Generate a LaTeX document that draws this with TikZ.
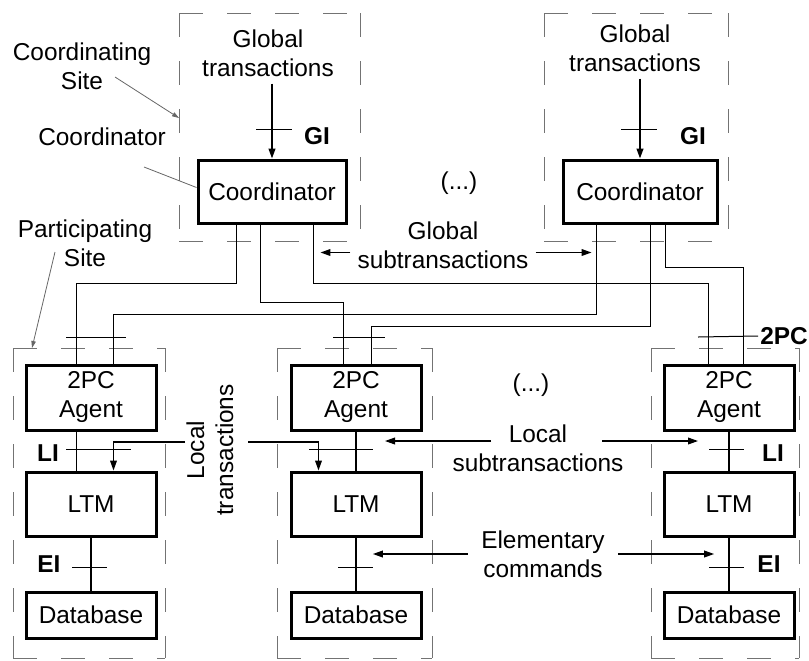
\documentclass[tikz,border=0pt]{standalone}
\usepackage{fontspec}
\setmainfont{Liberation Sans}
\usetikzlibrary{arrows.meta,calc}

\begin{document}
\begin{tikzpicture}[x=0.5pt,y=-0.5pt,font=\fontsize{12.2}{14.5}\selectfont,
    >={Triangle[length=5pt,width=3.4pt]}]
    \tikzstyle{box}=[draw,line width=1.5pt,inner sep=0pt,minimum width=65pt,align=center]
    \tikzstyle{area}=[inner sep=0pt,outer sep=0pt]
    \tikzstyle{site}=[draw=black!55,line width=0.5pt,dash pattern=on 11.75pt off 12.25pt]
    \tikzstyle{wire}=[line width=0.9pt]
    \tikzstyle{link}=[line width=0.6pt]
    \tikzstyle{tick}=[line width=0.5pt]
    \tikzstyle{note}=[draw=black!60,line width=0.4pt,>={Triangle[length=3.5pt,width=2.2pt]}]
    \tikzstyle{lbl}=[font=\fontsize{12.2}{14.5}\selectfont\bfseries]
    \useasboundingbox (0,0) rectangle (809,660);

    \node[area,minimum width=90.5pt,minimum height=114pt] (siteA) at (269.5,127) {};
    \node[area,minimum width=92pt,minimum height=114pt] (siteB) at (636,127) {};
    \node[area,minimum width=76pt,minimum height=155pt] (site1) at (89,503) {};
    \node[area,minimum width=77.5pt,minimum height=155pt] (site2) at (354.5,503) {};
    \node[area,minimum width=74pt,minimum height=155pt] (site3) at (725,503) {};
    \foreach \s in {siteA,siteB,site1,site2,site3} {
        \draw[site] (\s.north west) -- (\s.south west);
        \draw[site] (\s.north west) -- (\s.north east);
        \draw[site] (\s.north east) -- (\s.south east);
        \draw[site] (\s.south west) -- (\s.south east);
    }

    \node[box,minimum width=74pt,minimum height=31.5pt] (coordA) at (272,191.5) {Coordinator};
    \node[box,minimum width=77pt,minimum height=31.5pt] (coordB) at (640,191.5) {Coordinator};
    \node[box,minimum height=32.5pt] (agent1) at (91,397.5) {2PC\\Agent};
    \node[box,minimum height=32.5pt] (agent2) at (356,397.5) {2PC\\Agent};
    \node[box,minimum height=32.5pt] (agent3) at (729,397.5) {2PC\\Agent};
    \node[box,minimum height=32pt] (ltm1) at (91,504) {LTM};
    \node[box,minimum height=32pt] (ltm2) at (356,504) {LTM};
    \node[box,minimum height=32pt] (ltm3) at (729,504) {LTM};
    \node[box,minimum height=23pt] (db1) at (91,615) {Database};
    \node[box,minimum height=23pt] (db2) at (356,615) {Database};
    \node[box,minimum height=23pt] (db3) at (729,615) {Database};

    \node[align=center] (gtA) at (268,53) {Global\\transactions};
    \node[align=center] (gtB) at (635,48) {Global\\transactions};
    \draw[wire,->] (coordA.north |- gtA.south) -- (coordA.north);
    \draw[wire,->] (coordB.north |- gtB.south) -- (coordB.north);
    \draw[tick] (256,129) -- (292,129);
    \draw[tick] (621,129) -- (657,129);
    \node[lbl] (giA) at (317,136) {GI};
    \node[lbl] (giB) at (693,136) {GI};

    \draw[wire] ([xshift=20pt]coordA.south west) -- ++(0,59) -| ([xshift=26pt]agent1.north west);
    \draw[wire] ([xshift=32pt]coordA.south west) -- ++(0,78) -| ([xshift=27pt]agent2.north west);
    \draw[wire] ([xshift=58.5pt]coordA.south west) -- ++(0,59) -| ([xshift=23pt]agent3.north west);
    \draw[wire] ([xshift=17.5pt]coordB.south west) -- ++(0,90) -| ([xshift=44.5pt]agent1.north west);
    \draw[wire] ([xshift=44.5pt]coordB.south west) -- ++(0,102) -| ([xshift=41pt]agent2.north west);
    \draw[wire] ([xshift=52pt]coordB.south west) -- ++(0,43) -| ([xshift=40.5pt]agent3.north west);

    \draw[tick] (66,337) -- (126,337);
    \draw[tick] (333,337) -- (385,337);
    \node[lbl,anchor=west,inner sep=1pt] (tpc) at (758,336) {2PC};
    \draw[tick] (698,337) -- (tpc.west);

    \draw[link] ([xshift=26pt]agent1.south west) -- ([xshift=26pt]ltm1.north west);
    \draw[link] (agent2) -- (ltm2);
    \draw[link] (agent3) -- (ltm3);
    \draw[link] (ltm1) -- (db1);
    \draw[link] (ltm2) -- (db2);
    \draw[link] (ltm3) -- (db3);

    \draw[tick] (66,449) -- (131,449);
    \draw[tick] (309,449) -- (373,449);
    \draw[tick] (709,449) -- (744,449);
    \draw[tick] (72,567) -- (107,567);
    \draw[tick] (338,567) -- (373,567);
    \draw[tick] (709,567) -- (744,567);
    \node[lbl] (li1) at (48,453) {LI};
    \node[lbl] (li3) at (773,453) {LI};
    \node[lbl] (ei1) at (49,564) {EI};
    \node[lbl] (ei3) at (769,564) {EI};

    \node[rotate=90,align=center] (ltx) at (210,450) {Local\\transactions};
    \coordinate (ltL) at (185,442);
    \coordinate (ltR) at (248,442);
    \draw[link,->] (ltL) -| ([xshift=44.5pt]ltm1.north west);
    \draw[link,->] (ltR) -| ([xshift=14.5pt]ltm2.north west);

    \node[align=center] (gst) at (443,245.5) {Global\\subtransactions};
    \draw[link,->] ([yshift=-3.5pt]gst.west) -- ++(-30,0);
    \draw[link,->] ([yshift=-3.5pt]gst.east) -- ++(56,0);

    \node[align=center] (lst) at (538,448) {Local\\subtransactions};
    \coordinate (lsL) at (491,441);
    \coordinate (lsR) at (602,441);
    \draw[link,->] (lsL) -- ++(-106,0);
    \draw[link,->] (lsR) -- ++(96,0);

    \node[align=center,inner xsep=6.5pt] (ec) at (543,554) {Elementary\\commands};
    \draw[link,->] (ec.west) -- ++(-95,0);
    \draw[link,->] (ec.east) -- ++(96,0);

    \node (dotsA) at (459,183) {(...)};
    \node (dots1) at (531,385) {(...)};

    \node[align=center] (csite) at (82,66) {Coordinating\\Site};
    \coordinate (csA) at (115,77);
    \draw[note,->] (csA) -- ([yshift=4.5pt]siteA.west);
    \node (cord) at (102,137) {Coordinator};
    \coordinate (coA) at (144,167);
    \draw[note] (coA) -- ([yshift=2pt]coordA.west);
    \node[align=center] (psite) at (85,243) {Participating\\Site};
    \coordinate (psA) at (55,252);
    \draw[note,->] (psA) -- ([xshift=9.5pt]site1.north west);
\end{tikzpicture}
\end{document}
